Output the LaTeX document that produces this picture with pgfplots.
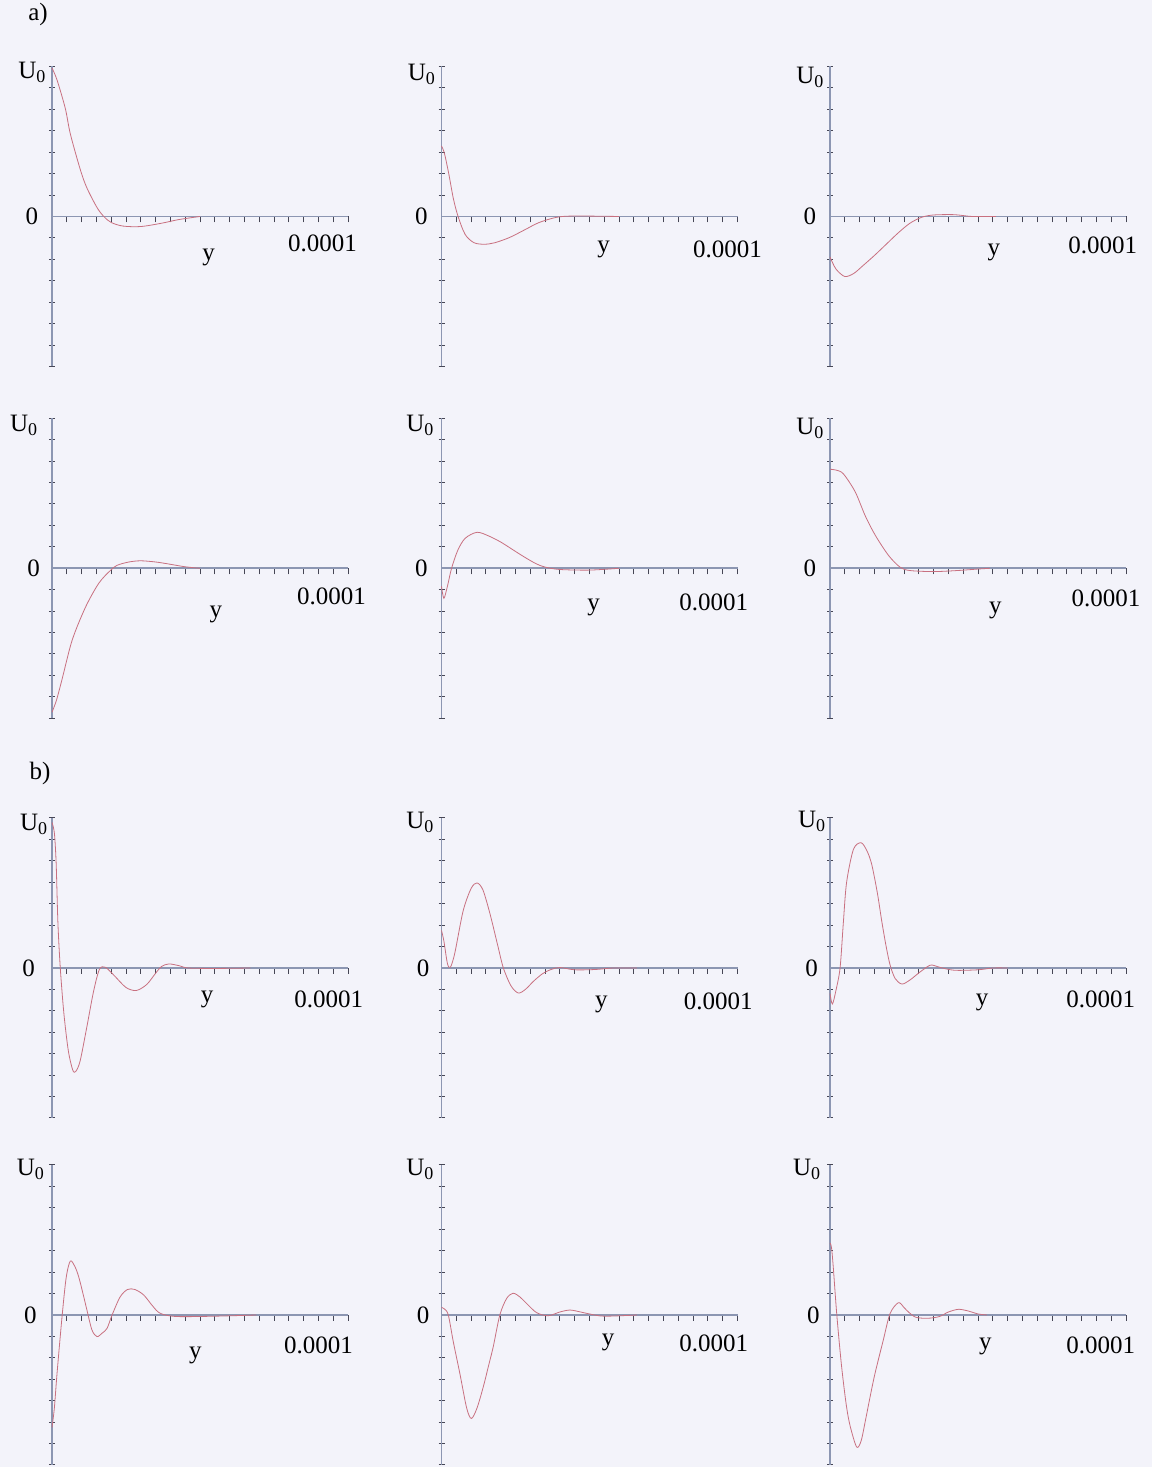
\documentclass[border=0pt]{standalone}
\usepackage{fontspec}
\setmainfont{Liberation Serif}
\usepackage{pgfplots}
\pgfplotsset{compat=1.18}
\definecolor{bgcol}{RGB}{243,243,250}
\definecolor{axiscol}{RGB}{140,150,178}
\definecolor{tickcol}{RGB}{70,70,85}
\definecolor{curvecol}{RGB}{200,112,128}
\newcommand{\Uz}{U\raisebox{-0.35ex}{\fontsize{9}{9}\selectfont 0}}
\tikzset{lab/.style={font=\fontsize{12.5}{14}\selectfont, inner sep=0pt}}
\pgfplotsset{
  panel/.style={
    scale only axis, width=148pt, height=150pt,
    xmin=0, xmax=10, ymin=-1, ymax=1,
    axis lines=middle,
    axis line style={draw=axiscol, line width=0.8pt, -},
    xtick={0,0.5,...,10},
    ytick={-1,-0.857,-0.714,-0.571,-0.429,-0.286,-0.143,0,0.143,0.286,0.429,0.571,0.714,0.857,1},
    xticklabels={}, yticklabels={},
    xtick align=outside, ytick align=center,
    major tick length=3pt,
    tick style={draw=tickcol, line width=0.5pt},
    clip=false, anchor=south west,
    cycle list={{curvecol, line width=0.75pt, mark=none}},
    every axis plot/.append style={smooth, tension=0.5},
  }
}
\begin{document}
\begin{tikzpicture}
\fill[bgcol] (0,0) rectangle (576pt,733.5pt);
\useasboundingbox (0,0) rectangle (576pt,733.5pt);
\node[lab] at (19pt,726pt) {a)};
\node[lab] at (20pt,347pt) {b)};

% ---------- a) row 1 ----------
\begin{axis}[panel, at={(26pt,550.25pt)}]
\addplot coordinates {(0,0.99) (0.17,0.91) (0.45,0.72) (0.62,0.55) (0.96,0.31) (1.18,0.19) (1.52,0.06) (1.75,0) (2.0,-0.04) (2.4,-0.064) (3.0,-0.067) (3.7,-0.045) (4.3,-0.02) (5.0,0)};
\node[lab] at (axis cs:-0.68,0.96) {\Uz};
\node[lab] at (axis cs:-0.68,0) {0};
\node[lab] at (axis cs:5.29,-0.27) {y};
\node[lab] at (axis cs:9.14,-0.18) {0.0001};
\end{axis}

\begin{axis}[panel, at={(220.75pt,550.25pt)}]
\addplot coordinates {(0,0.47) (0.1,0.42) (0.25,0.28) (0.4,0.12) (0.56,0) (0.8,-0.12) (1.1,-0.175) (1.45,-0.185) (1.8,-0.175) (2.3,-0.14) (2.8,-0.09) (3.3,-0.04) (3.9,-0.005) (4.5,0.003) (6.0,0)};
\node[lab] at (axis cs:-0.68,0.95) {\Uz};
\node[lab] at (axis cs:-0.68,0) {0};
\node[lab] at (axis cs:5.48,-0.22) {y};
\node[lab] at (axis cs:9.66,-0.22) {0.0001};
\end{axis}

\begin{axis}[panel, at={(415pt,550.25pt)}]
\addplot coordinates {(0,-0.27) (0.2,-0.35) (0.5,-0.40) (0.8,-0.38) (1.1,-0.33) (1.5,-0.26) (1.9,-0.185) (2.3,-0.11) (2.7,-0.045) (3.1,-0.005) (3.5,0.01) (4.2,0.012) (4.8,0.0) (5.6,0)};
\node[lab] at (axis cs:-0.68,0.93) {\Uz};
\node[lab] at (axis cs:-0.68,0) {0};
\node[lab] at (axis cs:5.54,-0.24) {y};
\node[lab] at (axis cs:9.21,-0.19) {0.0001};
\end{axis}

% ---------- a) row 2 ----------
\begin{axis}[panel, at={(26pt,374.35pt)}]
\addplot coordinates {(0,-0.96) (0.15,-0.88) (0.34,-0.74) (0.68,-0.48) (1.13,-0.26) (1.58,-0.1) (1.97,-0.015) (2.2,0.02) (2.6,0.042) (3.0,0.05) (3.5,0.042) (3.9,0.03) (4.5,0.01) (5.0,0)};
\node[lab] at (axis cs:-0.96,0.95) {\Uz};
\node[lab] at (axis cs:-0.62,0) {0};
\node[lab] at (axis cs:5.54,-0.31) {y};
\node[lab] at (axis cs:9.44,-0.19) {0.0001};
\end{axis}

\begin{axis}[panel, at={(220.75pt,374.35pt)}]
\addplot coordinates {(0,-0.12) (0.08,-0.2) (0.2,-0.12) (0.34,0) (0.55,0.12) (0.8,0.2) (1.2,0.24) (1.6,0.215) (2.0,0.175) (2.4,0.125) (2.8,0.075) (3.2,0.03) (3.5,0.008) (4.0,-0.008) (5.0,-0.012) (6.0,0)};
\node[lab] at (axis cs:-0.73,0.95) {\Uz};
\node[lab] at (axis cs:-0.68,0) {0};
\node[lab] at (axis cs:5.14,-0.26) {y};
\node[lab] at (axis cs:9.2,-0.23) {0.0001};
\end{axis}

\begin{axis}[panel, at={(415pt,374.35pt)}]
\addplot coordinates {(0,0.66) (0.2,0.655) (0.45,0.63) (0.85,0.51) (1.19,0.35) (1.53,0.22) (1.98,0.085) (2.37,0.007) (2.7,-0.015) (3.5,-0.022) (4.3,-0.015) (5.0,-0.005) (5.4,0)};
\node[lab] at (axis cs:-0.68,0.93) {\Uz};
\node[lab] at (axis cs:-0.68,0) {0};
\node[lab] at (axis cs:5.59,-0.28) {y};
\node[lab] at (axis cs:9.32,-0.2) {0.0001};
\end{axis}

% ---------- b) row 1 ----------
\begin{axis}[panel, at={(26pt,174.5pt)}]
\addplot coordinates {(0,0.97) (0.08,0.9) (0.14,0.7) (0.2,0.3) (0.28,0) (0.4,-0.3) (0.55,-0.55) (0.7,-0.68) (0.8,-0.69) (0.95,-0.62) (1.18,-0.39) (1.4,-0.16) (1.6,-0.01) (1.8,0.005) (2.1,-0.05) (2.5,-0.13) (2.85,-0.15) (3.2,-0.11) (3.5,-0.035) (3.7,0.01) (3.95,0.027) (4.3,0.015) (4.6,0) (5.5,-0.003) (6.7,0)};
\node[lab] at (axis cs:-0.62,0.96) {\Uz};
\node[lab] at (axis cs:-0.79,0) {0};
\node[lab] at (axis cs:5.24,-0.21) {y};
\node[lab] at (axis cs:9.35,-0.21) {0.0001};
\end{axis}

\begin{axis}[panel, at={(220.75pt,174.5pt)}]
\addplot coordinates {(0,0.25) (0.08,0.18) (0.2,0.03) (0.3,0.005) (0.45,0.1) (0.73,0.38) (1.0,0.53) (1.2,0.567) (1.4,0.52) (1.64,0.36) (1.9,0.15) (2.09,0) (2.35,-0.12) (2.6,-0.167) (2.85,-0.14) (3.1,-0.09) (3.4,-0.04) (3.7,-0.01) (4.0,0.003) (4.5,-0.012) (5.2,-0.01) (5.8,0) (6.6,0)};
\node[lab] at (axis cs:-0.73,0.97) {\Uz};
\node[lab] at (axis cs:-0.62,0) {0};
\node[lab] at (axis cs:5.4,-0.24) {y};
\node[lab] at (axis cs:9.35,-0.22) {0.0001};
\end{axis}

\begin{axis}[panel, at={(415pt,174.5pt)}]
\addplot coordinates {(0,-0.17) (0.08,-0.24) (0.2,-0.15) (0.34,0) (0.45,0.3) (0.56,0.57) (0.79,0.79) (1.05,0.835) (1.25,0.78) (1.41,0.69) (1.6,0.5) (1.75,0.31) (1.9,0.14) (2.03,0.02) (2.2,-0.07) (2.43,-0.107) (2.7,-0.08) (3.0,-0.033) (3.3,0.01) (3.45,0.02) (3.7,0.005) (4.2,-0.015) (5.0,-0.012) (5.5,0) (6.0,0)};
\node[lab] at (axis cs:-0.62,0.98) {\Uz};
\node[lab] at (axis cs:-0.62,0) {0};
\node[lab] at (axis cs:5.14,-0.23) {y};
\node[lab] at (axis cs:9.15,-0.21) {0.0001};
\end{axis}

% ---------- b) row 2 ----------
\begin{axis}[panel, at={(26pt,1pt)}]
\addplot coordinates {(0,-0.75) (0.08,-0.62) (0.17,-0.39) (0.34,-0.01) (0.48,0.25) (0.62,0.36) (0.78,0.32) (0.9,0.256) (1.05,0.14) (1.18,0.033) (1.35,-0.1) (1.52,-0.144) (1.7,-0.12) (1.86,-0.089) (2.03,0) (2.3,0.12) (2.55,0.17) (2.8,0.17) (3.1,0.133) (3.4,0.06) (3.66,0.011) (4.2,-0.01) (5.5,-0.008) (6.9,0)};
\node[lab] at (axis cs:-0.73,0.97) {\Uz};
\node[lab] at (axis cs:-0.73,0) {0};
\node[lab] at (axis cs:4.84,-0.27) {y};
\node[lab] at (axis cs:9.0,-0.2) {0.0001};
\end{axis}

\begin{axis}[panel, at={(220.75pt,1pt)}]
\addplot coordinates {(0,0.05) (0.1,0.04) (0.23,0) (0.4,-0.18) (0.62,-0.39) (0.85,-0.62) (1.01,-0.69) (1.2,-0.62) (1.41,-0.48) (1.6,-0.33) (1.75,-0.21) (1.97,0) (2.2,0.11) (2.42,0.145) (2.65,0.12) (2.87,0.078) (3.21,0.016) (3.6,-0.005) (4.0,0.02) (4.34,0.033) (4.7,0.02) (5.0,0.007) (5.5,-0.008) (6.6,0)};
\node[lab] at (axis cs:-0.73,0.97) {\Uz};
\node[lab] at (axis cs:-0.62,0) {0};
\node[lab] at (axis cs:5.63,-0.18) {y};
\node[lab] at (axis cs:9.2,-0.19) {0.0001};
\end{axis}

\begin{axis}[panel, at={(415pt,1pt)}]
\addplot coordinates {(0,0.48) (0.05,0.45) (0.11,0.32) (0.23,0) (0.39,-0.34) (0.55,-0.6) (0.68,-0.74) (0.9,-0.88) (1.05,-0.84) (1.18,-0.72) (1.35,-0.55) (1.52,-0.39) (1.8,-0.167) (2.03,0.01) (2.31,0.082) (2.5,0.05) (2.65,0.02) (2.9,-0.015) (3.3,-0.022) (3.7,-0.01) (4.0,0.02) (4.35,0.038) (4.7,0.025) (5.0,0.007) (5.3,0)};
\node[lab] at (axis cs:-0.79,0.97) {\Uz};
\node[lab] at (axis cs:-0.56,0) {0};
\node[lab] at (axis cs:5.25,-0.21) {y};
\node[lab] at (axis cs:9.15,-0.2) {0.0001};
\end{axis}
\end{tikzpicture}
\end{document}
